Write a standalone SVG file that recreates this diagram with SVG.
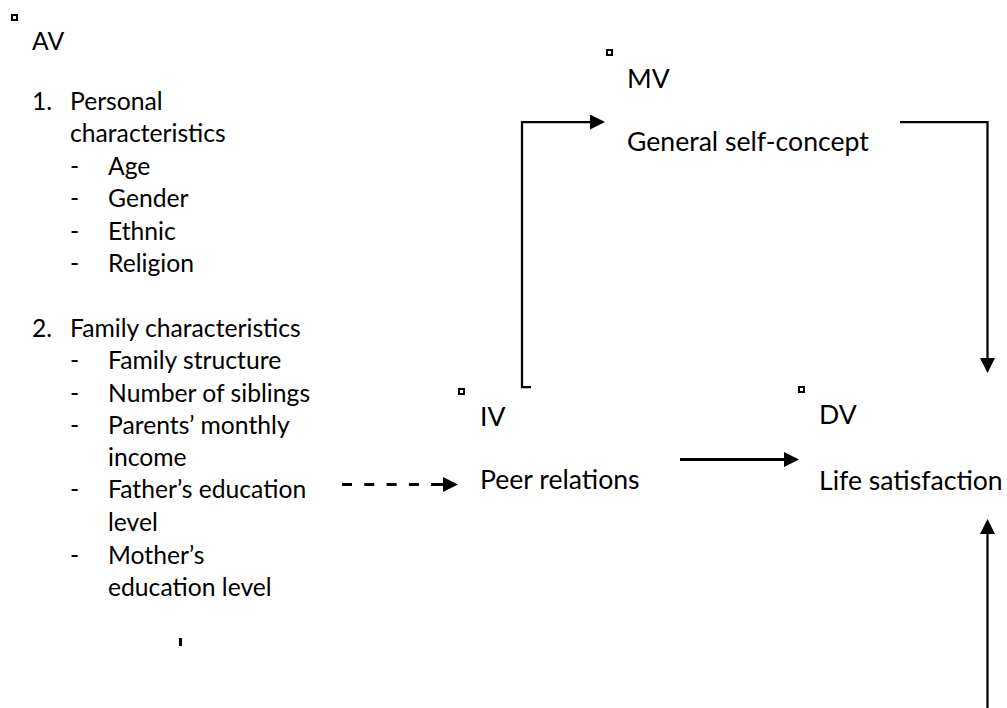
<svg xmlns="http://www.w3.org/2000/svg" width="1007" height="708" viewBox="0 0 1007 708">
<style>
  text { font-family: Lato, "Liberation Sans", sans-serif; fill: #000; }
  .l { font-size: 24.7px; }
  .r { font-size: 26.6px; }
  .box { fill: none; stroke: #000; stroke-width: 2; }
  .c { fill: none; stroke: #000; stroke-width: 2.25; }
  .thick { stroke-width: 3; }
  .dash { stroke-width: 3; stroke-dasharray: 10 12.3; }
</style>
<defs>
  <marker id="ah" markerUnits="userSpaceOnUse" markerWidth="16" markerHeight="16" refX="1" refY="7.5" orient="auto">
    <path d="M0,0 L15,7.5 L0,15 z" fill="#000"/>
  </marker>
</defs>
<rect width="1007" height="708" fill="#fff"/>
<g id="av">
  <rect class="box" x="12" y="15" width="5" height="5"/>
  <text class="l" x="32" y="50">AV</text>
  <text class="l" x="32" y="110">1.</text>
  <text class="l" x="70" y="110">Personal</text>
  <text class="l" x="70" y="142">characteristics</text>
  <text class="l" x="70" y="175">-</text><text class="l" x="108" y="175">Age</text>
  <text class="l" x="70" y="207">-</text><text class="l" x="108" y="207">Gender</text>
  <text class="l" x="70" y="240">-</text><text class="l" x="108" y="240">Ethnic</text>
  <text class="l" x="70" y="272">-</text><text class="l" x="108" y="272">Religion</text>
  <text class="l" x="32" y="337">2.</text>
  <text class="l" x="70" y="337">Family characteristics</text>
  <text class="l" x="70" y="369">-</text><text class="l" x="108" y="369">Family structure</text>
  <text class="l" x="70" y="402">-</text><text class="l" x="108" y="402">Number of siblings</text>
  <text class="l" x="70" y="434">-</text><text class="l" x="108" y="434">Parents’ monthly</text>
  <text class="l" x="108" y="466">income</text>
  <text class="l" x="70" y="498">-</text><text class="l" x="108" y="498">Father’s education</text>
  <text class="l" x="108" y="531">level</text>
  <text class="l" x="70" y="564">-</text><text class="l" x="108" y="564">Mother’s</text>
  <text class="l" x="108" y="596">education level</text>
  <rect x="179" y="638" width="3" height="8" fill="#000"/>
</g>
<g id="mv">
  <rect class="box" x="607" y="50" width="5" height="5"/>
  <text class="r" x="627" y="88">MV</text>
  <text class="r" x="627" y="151">General self-concept</text>
</g>
<g id="iv">
  <rect class="box" x="459" y="389" width="5" height="5"/>
  <text class="r" x="480" y="426">IV</text>
  <text class="r" x="480" y="489">Peer relations</text>
</g>
<g id="dv">
  <rect class="box" x="799" y="387" width="5" height="5"/>
  <text class="r" x="819" y="424">DV</text>
  <text class="r" x="819" y="490">Life satisfaction</text>
</g>
<g id="connectors">
  <path class="c" d="M531,387 H522 V122 H591" marker-end="url(#ah)"/>
  <path class="c" d="M900,122 H987.5 V359" marker-end="url(#ah)"/>
  <path class="c thick" d="M680,459.5 H785" marker-end="url(#ah)"/>
  <path class="c dash" d="M342,484.5 H425"/>
  <path class="c thick" d="M431,484.5 H444" marker-end="url(#ah)"/>
  <path class="c" d="M987.5,708 V533" marker-end="url(#ah)"/>
</g>
</svg>
